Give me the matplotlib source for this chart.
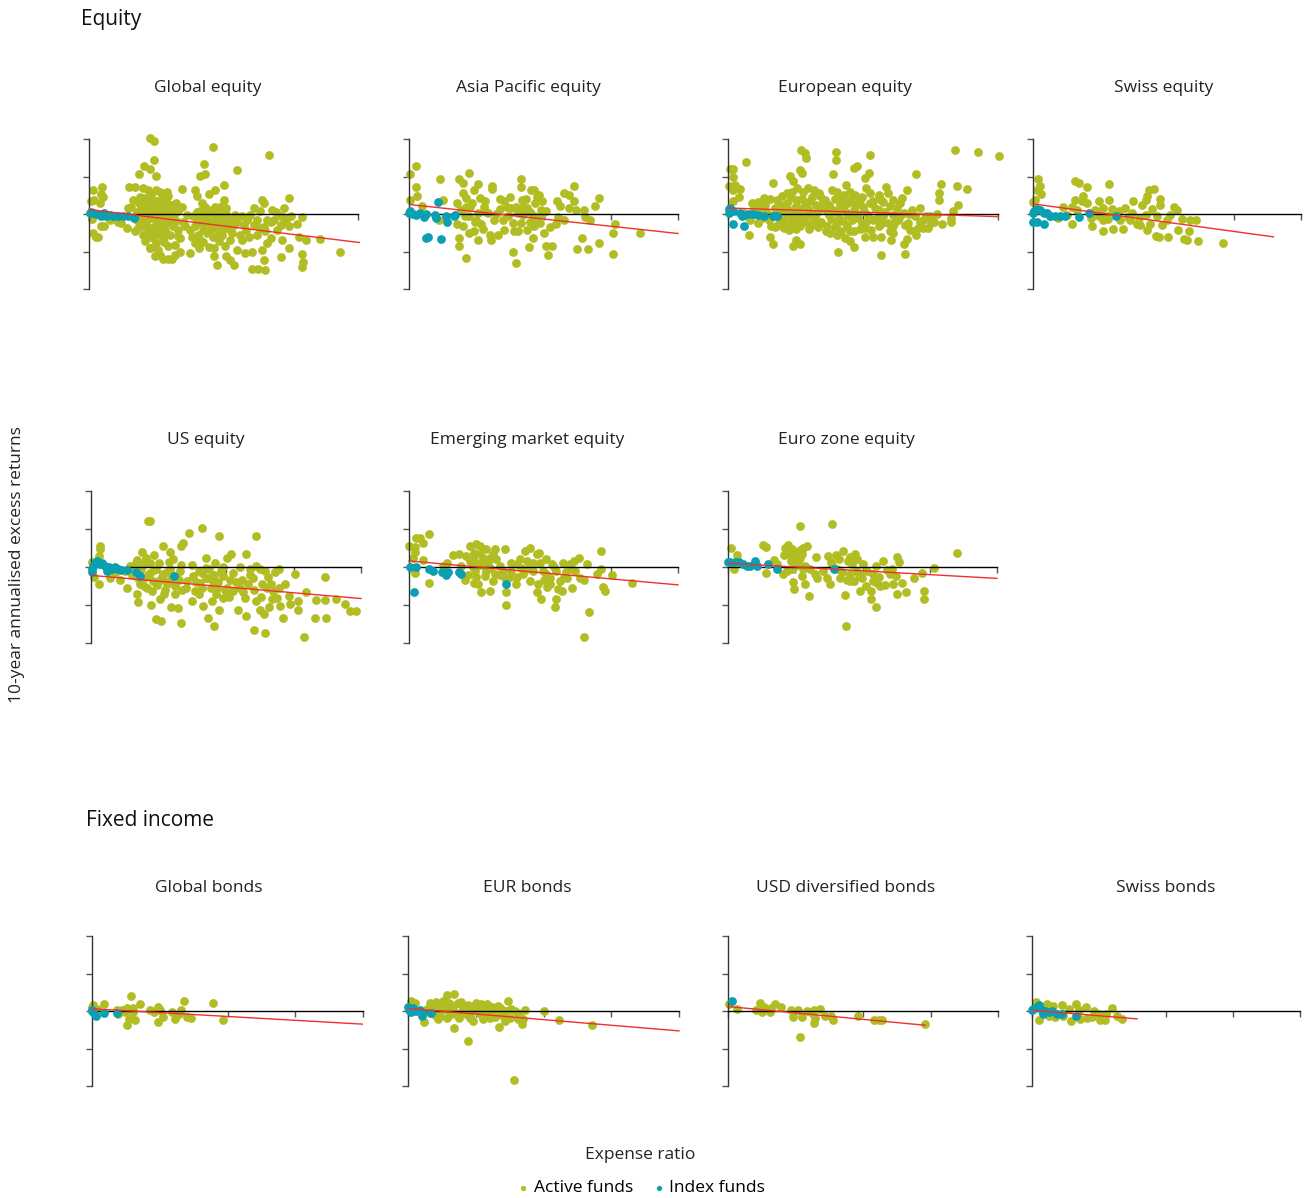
import numpy as np
import matplotlib
matplotlib.use("Agg")
import matplotlib.pyplot as plt

plt.rcParams['font.family'] = ['Open Sans', 'DejaVu Sans']

ACTIVE = '#b1bd22'
INDEX = '#0aa0b2'
TREND = '#f03030'

# ---------------- data (x = expense ratio, y = excess return) ----------------
global_eq_active = [
    (0.90, 2.03), (0.96, 1.96), (1.85, 1.79), (2.67, 1.58), (1.71, 1.33), (0.82, 1.29), (0.96, 1.45),
    (0.90, 1.20), (0.75, 1.08), (1.00, 1.02), (2.20, 1.18), (1.65, 1.02), (1.73, 1.07),
    (0.06, 0.65), (0.20, 0.72), (0.18, 0.54), (0.60, 0.72), (0.68, 0.72), (0.81, 0.69), (0.88, 0.65),
    (1.00, 0.63), (1.05, 0.60), (1.16, 0.58), (1.39, 0.68), (1.57, 0.65), (1.61, 0.49), (1.78, 0.54),
    (1.88, 0.65), (2.01, 0.77), (2.57, 0.38), (2.97, 0.42), (2.60, 0.29),
    (0.06, -0.51), (0.11, -0.60), (0.13, -0.61), (0.18, -0.33), (0.22, -0.31), (0.05, -0.12), (0.03, 0.34),
    (0.08, 0.38), (0.16, 0.29), (0.21, 0.45), (0.31, -0.15), (0.43, -0.20), (0.48, -0.24), (0.56, -0.37),
    (0.63, 0.19), (0.66, 0.38), (0.58, 0.16),
    (0.76, 0.45), (0.81, 0.25), (0.87, 0.38), (0.93, 0.29), (1.00, 0.34), (1.08, 0.43), (1.15, 0.38),
    (1.20, 0.12), (1.28, 0.13), (1.33, 0.07), (0.76, 0.03), (0.83, -0.06), (0.91, -0.11), (0.98, -0.02),
    (1.05, -0.06), (1.13, -0.15), (1.20, -0.11), (0.68, -0.46), (0.73, -0.37), (0.81, -0.33), (0.88, -0.42),
    (0.96, -0.51), (1.05, -0.55), (1.13, -0.42), (1.25, -0.33), (1.33, -0.42), (0.83, -0.73), (0.91, -0.91),
    (1.00, -0.77), (1.10, -0.64), (1.18, -0.86), (1.28, -0.82), (1.35, -0.64), (0.98, -1.13), (1.05, -1.08),
    (1.10, -1.20), (1.18, -1.20), (1.24, -1.20), (1.28, -1.08), (1.35, -1.00), (0.90, -0.91),
    (0.78, 0.15), (0.86, 0.10), (0.95, 0.18), (1.10, 0.22), (0.72, -0.15), (0.85, -0.25), (1.00, -0.30),
    (1.15, -0.25), (0.95, -0.65), (1.20, -0.55), (0.80, -0.55), (1.10, 0.05),
    (0.74, 0.30), (0.80, 0.05), (0.84, 0.42), (0.90, 0.22), (0.92, 0.50), (0.97, 0.08), (1.02, 0.25),
    (1.06, 0.14), (1.12, 0.30), (1.18, 0.48), (1.22, 0.25), (1.26, -0.02), (1.30, 0.30), (0.76, -0.30),
    (0.82, -0.18), (0.88, -0.02), (0.94, -0.38), (0.99, -0.18), (1.04, -0.42), (1.08, -0.30), (1.16, -0.02),
    (1.22, -0.20), (1.30, -0.18), (1.32, -0.58), (0.86, -0.60), (1.12, -0.75), (1.02, -0.95), (0.72, 0.05),
    (1.38, 0.20), (1.40, -0.20),
    (1.43, -0.33), (1.50, -0.42), (1.50, -1.04), (1.58, -0.77), (1.65, -0.68), (1.63, -0.91), (1.70, -0.42),
    (1.75, -0.15), (1.78, 0.12), (1.83, 0.03), (1.88, -0.11), (1.90, -0.37), (1.85, -0.60), (1.86, -0.91),
    (1.86, -1.13), (1.91, -1.35), (1.95, 0.20), (2.00, 0.38), (2.04, 0.01), (2.05, -0.24), (1.98, -0.55),
    (2.02, -0.86), (2.04, -1.11), (2.10, -1.22), (2.15, -1.36), (2.12, -0.15), (2.17, -0.02), (1.45, -0.02),
    (1.55, -0.06), (1.60, -0.15), (1.65, 0.07), (1.72, 0.20), (1.58, -0.33), (1.53, -0.60),
    (1.70, -0.25), (1.80, -0.30), (1.95, -0.20), (1.75, -0.50), (1.92, 0.05), (1.68, -0.05), (2.08, -0.40),
    (1.60, 0.05), (1.64, -0.22), (1.68, 0.30), (1.72, -0.10), (1.76, 0.02), (1.80, -0.45), (1.84, -0.20),
    (1.88, 0.20), (1.92, -0.55), (1.96, -0.08), (2.00, -0.38), (2.04, 0.15), (2.08, -0.15), (2.12, -0.50),
    (2.16, -0.30), (1.62, -0.55), (1.70, -0.75), (1.78, -0.88), (1.94, -0.72), (2.10, -0.70), (2.20, -0.20),
    (2.25, -0.55), (2.33, -0.42), (2.35, -0.15), (2.40, -0.02), (2.45, 0.16), (2.50, -0.15), (2.55, -0.37),
    (2.32, -1.04), (2.42, -1.00), (2.42, -1.46), (2.52, -1.46), (2.62, -1.50), (2.60, -1.22), (2.57, -0.95),
    (2.65, -0.77), (2.70, -0.64), (2.75, -0.15), (2.80, -0.42), (2.85, -0.06), (2.90, 0.16), (2.95, -0.11),
    (2.98, -0.31), (2.87, -0.68), (2.86, -1.15), (2.98, -0.91), (3.10, -0.26), (3.12, -0.60), (3.17, -0.09),
    (3.17, -1.06), (3.18, -1.29), (3.17, -1.41), (3.22, -0.68), (3.43, -0.66), (3.73, -1.00), (2.27, -0.68),
    (2.20, -0.95), (2.65, -0.15), (2.72, 0.12), (2.27, -0.06), (2.55, 0.07), (2.45, -0.30), (2.62, -0.45),
    (2.30, -0.30), (2.38, -0.60), (2.50, -0.55), (2.60, -0.35), (2.70, -0.20), (2.78, 0.05), (2.92, -0.20),
    (3.00, -0.05), (2.85, -0.30),
]
global_eq_index = [
    (0.01, 0.04), (0.06, 0.03), (0.11, 0.01), (0.16, -0.02), (0.23, 0.03), (0.31, -0.02), (0.36, -0.04),
    (0.43, -0.06), (0.51, -0.04), (0.58, -0.06), (0.67, -0.11), (0.03, 0.06), (0.18, -0.04), (0.26, -0.06),
]

asia_eq_active = [
    (0.10, 1.27), (0.01, 1.07), (0.11, 0.71), (0.12, 0.49), (0.01, 0.38), (0.19, 0.22), (0.46, 0.93),
    (0.50, 0.38), (0.45, -0.15), (0.74, 0.93), (0.80, 0.84), (0.89, 1.09), (1.03, 0.81), (0.96, 0.63),
    (0.80, 0.56), (0.85, 0.43), (0.72, 0.29), (0.94, 0.29), (1.06, 0.43), (1.13, 0.34), (1.11, 0.20),
    (0.85, 0.19), (0.89, -0.06), (0.83, -0.06), (0.72, -0.26), (0.80, -0.31), (0.89, -0.51), (0.96, -0.46),
    (0.75, -0.64), (0.75, -0.84), (0.85, -1.17), (1.03, -0.70), (1.07, -0.26), (1.00, -0.15), (1.20, -0.55),
    (1.22, -0.68), (1.24, 0.74), (1.24, 0.67), (1.27, -0.15), (1.35, 0.40), (1.36, 0.13), (1.42, 0.34),
    (1.50, 0.45), (1.40, -0.15), (1.33, -0.55), (1.42, -0.42), (1.52, 0.16), (1.59, 0.19), (1.56, -0.46),
    (1.62, -0.46), (1.54, -1.02), (1.59, -1.31), (1.67, 0.93), (1.67, 0.72), (1.68, 0.38), (1.74, 0.40),
    (1.69, -0.02), (1.67, -0.24), (1.75, -0.42), (1.79, -0.88), (1.81, 0.63), (1.86, 0.63), (1.88, 0.29),
    (1.85, -0.64), (1.93, 0.52), (1.96, 0.12), (1.98, 0.34), (1.91, -0.15), (2.00, -0.51), (2.03, -0.84),
    (2.06, -1.08), (2.13, -0.84), (2.04, 0.07), (2.22, -0.08), (2.25, 0.22), (2.18, -0.26), (2.30, 0.56),
    (2.30, -0.15), (2.38, 0.52), (2.38, 0.16), (2.45, 0.76), (2.46, 0.34), (2.49, 0.12), (2.50, -0.93),
    (2.57, -0.64), (2.60, 0.10), (2.61, -0.08), (2.66, -0.93), (2.69, -0.15), (2.76, 0.22), (2.83, 0.43),
    (2.83, -0.76), (3.04, -0.51), (3.06, -0.26), (3.04, -1.06), (3.43, -0.51), (1.76, 0.16), (1.86, -0.06),
    (1.47, -0.06), (1.18, 0.03), (1.03, 0.03), (1.86, -0.33), (1.95, -0.25), (1.80, 0.05),
    (0.90, 0.20), (0.98, -0.20), (1.10, -0.40), (1.15, 0.05), (1.30, 0.00), (1.45, 0.20), (1.55, -0.25),
    (1.70, 0.20), (1.80, -0.20), (1.90, 0.45), (2.10, -0.35), (2.20, 0.35), (1.98, 0.00), (1.62, 0.02),
    (0.78, 0.10),
]
asia_eq_index = [
    (0.00, 0.04), (0.01, 0.07), (0.06, 0.01), (0.11, -0.02), (0.16, 0.03), (0.22, -0.08), (0.26, 0.00),
    (0.38, -0.02), (0.40, -0.11), (0.43, 0.31), (0.55, -0.06), (0.57, -0.20), (0.67, -0.06), (0.69, -0.02),
    (0.28, -0.62), (0.48, -0.67), (0.26, -0.64),
]

europe_eq_active = [
    (3.36, 1.70), (3.70, 1.65), (4.01, 1.54), (1.08, 1.70), (1.14, 1.63), (1.16, 1.49), (1.60, 1.66),
    (1.60, 1.45), (2.10, 1.57), (0.26, 1.40), (0.03, 1.20), (0.07, 1.20), (0.07, 0.99), (1.91, 1.29),
    (1.86, 1.23), (2.09, 1.09), (2.03, 0.96), (1.56, 1.07), (1.06, 1.18), (1.09, 1.09), (0.92, 1.02),
    (0.97, 0.87), (0.67, 0.84), (2.79, 1.07), (3.15, 0.81), (3.39, 0.76), (3.54, 0.68), (3.12, 0.56),
    (3.12, 0.38), (3.41, 0.25), (3.33, 0.09), (3.31, -0.11), (3.31, -0.21), (3.09, 0.01), (3.17, -0.26),
    (3.05, -0.21),
    (0.02, 0.74), (0.11, 0.78), (0.18, 0.67), (0.08, 0.63), (0.16, 0.45), (0.08, 0.34), (0.31, -0.55),
    (0.45, 0.32), (0.53, 0.43), (0.45, -0.24), (0.63, -0.31), (0.62, -0.62), (0.67, -0.80), (0.72, -0.31),
    (0.97, -0.84), (1.06, -0.79), (1.01, -0.70), (0.83, -0.37), (0.90, -0.42), (1.02, -0.24), (1.14, -0.22),
    (1.22, -0.33), (1.34, -0.35), (1.46, -0.31), (1.51, -0.51), (1.61, -0.55), (1.63, -1.02), (1.68, -0.46),
    (1.73, -0.64), (1.81, -0.73), (1.87, -0.89), (1.86, -0.46), (2.03, -0.60), (2.15, -0.60), (2.26, -0.60),
    (2.27, -1.10), (2.42, -0.68), (2.44, -0.51), (2.62, -1.06), (2.61, -0.79), (2.65, -0.67), (2.79, -0.55),
    (2.89, -0.37), (2.97, -0.37), (2.82, -0.37), (2.70, -0.42), (2.67, -0.24),
    (0.72, 0.38), (0.80, 0.47), (0.87, 0.56), (0.95, 0.60), (1.02, 0.69), (1.11, 0.60), (1.19, 0.69),
    (1.28, 0.65), (1.36, 0.47), (1.44, 0.38), (1.54, 0.65), (1.64, 0.43), (1.69, 0.38), (1.75, 0.78),
    (1.81, 0.60), (1.88, 0.52), (1.96, 0.38), (2.05, 0.69), (2.10, 0.56), (2.15, 0.34), (2.23, 0.52),
    (2.30, 0.31), (2.34, 0.72), (2.37, 0.56), (2.44, 0.38), (2.50, 0.16), (2.58, 0.43), (2.65, 0.65),
    (2.72, 0.12), (2.84, 0.16), (2.77, -0.06),
    (0.48, 0.12), (0.58, 0.03), (0.67, -0.06), (0.75, 0.07), (0.82, -0.11), (0.90, -0.02), (0.97, 0.12),
    (1.04, -0.06), (1.12, 0.20), (1.19, 0.03), (1.27, -0.11), (1.34, 0.07), (1.41, 0.20), (1.49, -0.02),
    (1.56, 0.12), (1.64, -0.11), (1.71, 0.16), (1.78, -0.02), (1.86, 0.12), (1.93, -0.11), (2.00, 0.20),
    (2.08, -0.02), (2.15, -0.15), (2.23, 0.12), (2.30, -0.06), (2.37, -0.24), (2.45, -0.02), (2.52, -0.15),
    (2.60, 0.03), (2.89, -0.15), (2.99, -0.06), (0.33, -0.15), (0.23, 0.03), (0.38, 0.20), (0.87, 0.29),
    (1.02, 0.38), (1.22, 0.34), (1.78, 0.29), (1.98, -0.24), (1.61, -0.24), (1.31, -0.15), (1.07, -0.33),
    (0.92, -0.24), (0.75, -0.24), (2.03, -0.37), (2.23, -0.33), (2.45, -0.31), (1.76, -0.33),
    (0.55, 0.25), (0.60, -0.15), (0.62, 0.40), (0.70, 0.15), (0.70, -0.35), (0.78, 0.25), (0.80, -0.05),
    (0.85, -0.30), (0.88, 0.10), (0.93, 0.42), (0.95, -0.12), (1.00, 0.22), (1.00, -0.40), (1.05, 0.05),
    (1.09, 0.40), (1.10, -0.20), (1.15, 0.28), (1.15, -0.05), (1.20, 0.12), (1.20, -0.40), (1.25, 0.45),
    (1.25, -0.25), (1.30, 0.25), (1.30, 0.00), (1.38, -0.22), (1.40, 0.35), (1.45, 0.10), (1.45, -0.45),
    (1.50, 0.25), (1.52, -0.12), (1.58, 0.40), (1.58, -0.35), (1.62, 0.05), (1.66, 0.25), (1.70, -0.18),
    (1.72, 0.52), (1.75, 0.05), (1.80, -0.45), (1.82, 0.38), (1.84, -0.15), (1.90, 0.25), (1.90, 0.00),
    (1.95, -0.40), (1.98, 0.45), (2.02, 0.08), (2.05, -0.20), (2.10, 0.30), (2.12, -0.42), (2.18, 0.15),
    (2.20, -0.10), (2.26, 0.38), (2.28, -0.25), (2.33, 0.05), (2.40, 0.22), (2.40, -0.45), (2.48, -0.20),
    (2.55, 0.30), (2.55, -0.05), (2.62, -0.30), (2.68, 0.00), (2.75, -0.45), (2.85, -0.20), (2.93, -0.05),
    (3.00, -0.25), (0.40, 0.05), (0.50, -0.10), (0.35, 0.30), (0.28, -0.05), (1.35, 0.55), (1.62, 0.60),
]
europe_eq_index = [
    (0.01, 0.13), (0.01, 0.04), (0.03, 0.16), (0.08, 0.07), (0.18, 0.03), (0.23, -0.02), (0.31, 0.01),
    (0.37, 0.01), (0.45, -0.02), (0.53, -0.06), (0.67, -0.04), (0.73, -0.04), (0.07, -0.26), (0.23, -0.31),
    (0.21, -0.06),
]

swiss_eq_active = [
    (0.07, 0.93), (0.11, 0.76), (0.06, 0.65), (0.12, 0.54), (0.03, 0.38), (0.00, 0.31), (0.63, 0.89),
    (0.68, 0.83), (0.80, 0.71), (1.14, 0.80), (0.74, 0.49), (0.63, 0.38), (0.73, 0.34), (0.81, 0.29),
    (0.45, 0.18), (0.58, 0.19), (0.66, 0.12), (0.58, -0.26), (0.88, -0.31), (0.98, 0.34), (1.05, 0.16),
    (1.14, 0.38), (0.93, 0.12), (0.98, -0.06), (1.05, -0.15), (1.10, -0.06), (1.18, 0.13), (1.05, -0.46),
    (1.19, -0.40), (1.30, -0.15), (1.28, 0.07), (1.38, 0.16), (1.35, -0.40), (1.45, -0.15), (1.49, 0.34),
    (1.48, 0.04), (1.55, -0.26), (1.58, -0.11), (1.63, 0.25), (1.68, 0.38), (1.70, 0.49), (1.73, 0.63),
    (1.80, 0.67), (1.78, 0.13), (1.68, -0.02), (1.70, -0.42), (1.75, -0.26), (1.83, -0.58), (1.88, -0.60),
    (1.89, 0.40), (1.90, 0.25), (1.85, -0.06), (1.92, -0.28), (2.00, -0.15), (2.01, -0.60), (2.04, -0.02),
    (2.10, 0.20), (2.15, 0.12), (2.22, -0.13), (2.17, -0.42), (2.25, -0.67), (2.30, -0.68), (2.33, -0.46),
    (2.34, -0.17), (2.44, -0.17), (2.46, -0.73), (2.83, -0.76), (0.26, -0.06), (0.38, -0.11), (0.51, -0.02),
    (0.86, -0.11), (1.00, 0.05), (1.12, -0.12), (1.60, -0.30), (1.42, -0.08),
]
swiss_eq_index = [
    (0.00, 0.03), (0.02, 0.07), (0.06, 0.13), (0.11, 0.10), (0.16, 0.03), (0.21, 0.04), (0.26, -0.04),
    (0.33, -0.06), (0.41, -0.06), (0.48, -0.06), (0.00, -0.22), (0.06, -0.22), (0.16, -0.26), (0.68, -0.08),
    (0.83, 0.03), (1.24, -0.06),
]

us_eq_active = [
    (0.85, 1.20), (0.88, 1.20), (1.64, 1.02), (1.45, 0.89), (1.90, 0.82), (2.44, 0.82), (1.36, 0.64),
    (1.33, 0.55), (1.07, 0.55), (0.13, 0.55), (0.13, 0.47), (0.12, 0.29), (0.01, 0.14), (0.75, 0.40),
    (1.17, 0.40), (0.94, 0.32), (0.81, 0.23), (0.68, 0.18), (1.15, 0.14), (1.33, 0.05), (1.71, 0.23),
    (1.84, 0.11), (1.96, 0.00), (2.01, 0.23), (2.08, 0.35), (2.30, 0.35), (2.21, 0.00), (2.35, -0.04),
    (2.45, 0.03), (2.50, -0.06), (2.58, -0.11), (2.73, -0.12), (2.78, -0.04), (3.02, -0.19), (3.47, -0.25),
    (0.04, -0.26), (0.12, -0.46), (0.28, -0.28), (0.43, -0.33), (0.53, -0.55), (0.68, -0.72), (0.70, -0.91),
    (0.89, -1.00), (0.97, -1.38), (1.03, -1.41), (1.19, -1.05), (1.29, -1.09), (1.33, -1.47), (1.24, -0.72),
    (1.02, -0.83), (0.83, -0.55), (0.92, -0.37), (1.02, -0.33), (1.12, -0.46), (0.78, -0.28), (0.88, -0.15),
    (0.97, -0.06), (1.07, -0.19), (1.17, -0.06), (1.27, -0.28), (1.42, -0.37), (1.49, -0.90), (1.54, -0.63),
    (1.61, -0.41), (1.66, -1.03), (1.74, -1.34), (1.79, -0.90), (1.82, -1.56), (1.90, -1.12), (1.96, -0.81),
    (2.01, -0.55), (2.06, -0.35), (1.64, -0.15), (1.74, -0.28), (1.81, -0.37), (1.86, -0.55), (2.11, -0.63),
    (2.18, -1.12), (2.23, -0.33), (2.28, -0.81), (2.30, -1.29), (2.33, -0.46), (2.41, -1.67), (2.45, -0.90),
    (2.50, -1.12), (2.54, -0.46), (2.56, -1.23), (2.58, -1.73), (2.63, -1.05), (2.67, -0.46), (2.70, -0.63),
    (2.75, -0.81), (2.80, -1.03), (2.85, -1.34), (2.94, -0.76), (2.95, -0.98), (3.07, -0.90), (3.07, -1.12),
    (3.15, -1.85), (3.19, -0.65), (3.32, -1.34), (3.34, -0.88), (3.47, -0.88), (3.48, -1.34), (3.63, -0.83),
    (3.77, -0.97), (3.84, -1.16), (3.93, -1.16), (0.78, 0.07), (0.88, 0.11), (0.58, 0.03), (1.32, -0.11),
    (1.51, -0.24), (1.71, -0.02), (2.11, -0.15), (1.96, -0.24), (0.60, -0.20), (0.72, -0.45), (1.10, -0.60),
    (1.40, -0.55), (1.60, -0.70), (2.20, -0.55), (2.40, -0.30), (2.62, -0.25), (1.85, -0.70), (1.50, 0.05),
    (0.62, -0.10), (0.66, 0.10), (0.70, -0.30), (0.74, -0.05), (0.78, -0.50), (0.82, 0.15), (0.85, -0.20),
    (0.90, -0.62), (0.93, -0.08), (0.98, -0.48), (1.00, 0.10), (1.05, -0.25), (1.08, -0.70), (1.12, -0.12),
    (1.15, -0.38), (1.20, -0.20), (1.22, 0.20), (1.25, -0.50), (1.30, -0.35), (1.35, -0.60), (1.55, -0.40),
    (1.60, -0.10), (1.65, -0.55), (1.70, -0.30), (1.75, -0.05), (1.78, -0.55), (1.82, -0.20), (1.88, -0.40),
    (1.92, -0.10), (1.98, -0.60), (2.05, -0.80), (2.15, -0.40), (2.25, -0.65), (2.35, -0.20), (2.42, -0.60),
    (2.52, -0.80), (2.60, -0.55), (2.68, -0.85), (2.78, -0.55), (2.88, -0.45), (0.50, -0.10), (0.35, -0.15),
]
us_eq_index = [
    (0.01, -0.06), (0.03, 0.03), (0.06, 0.11), (0.09, 0.16), (0.13, 0.07), (0.17, 0.11), (0.21, 0.03),
    (0.26, 0.00), (0.31, -0.04), (0.36, 0.00), (0.40, -0.04), (0.45, -0.09), (0.53, -0.09), (0.67, -0.12),
    (0.73, -0.24), (1.23, -0.24), (0.02, -0.12), (0.23, -0.11),
]

em_eq_active = [
    (0.00, 0.55), (0.09, 0.53), (0.11, 0.76), (0.16, 0.76), (0.21, 0.62), (0.30, 0.86), (0.09, 0.40),
    (0.06, 0.23), (0.21, 0.18), (0.09, -0.15), (0.30, -0.41), (0.65, 0.32), (0.75, 0.35), (0.90, 0.55),
    (1.00, 0.60), (1.05, 0.55), (1.14, 0.47), (1.28, 0.47), (1.43, 0.47), (0.96, 0.38), (1.05, 0.33),
    (1.20, 0.25), (1.30, 0.20), (0.91, 0.16), (1.01, 0.11), (1.11, 0.07), (1.20, -0.02), (0.78, 0.03),
    (0.83, -0.33), (0.98, -0.11), (0.96, -0.41), (1.03, -0.46), (1.07, -0.66), (1.20, -0.63), (1.25, -0.37),
    (1.28, -0.19), (1.13, -0.24), (1.43, -0.28), (1.44, -0.66), (1.44, -1.00), (1.51, 0.11), (1.52, -0.11),
    (1.59, -0.46), (1.66, -0.02), (1.72, 0.42), (1.80, 0.51), (1.80, -0.37), (1.85, 0.11), (1.90, 0.35),
    (1.93, 0.38), (1.90, -0.65), (1.92, -0.46), (1.97, -0.83), (1.99, -0.11), (2.03, 0.20), (2.05, -0.53),
    (2.09, -0.28), (2.13, 0.07), (2.17, -1.05), (2.19, -0.85), (2.22, -0.59), (2.24, -0.37), (2.27, -0.63),
    (2.29, 0.11), (2.33, -0.12), (2.39, 0.09), (2.42, -0.55), (2.43, -0.04), (2.47, -0.11), (2.53, 0.23),
    (2.55, -0.28), (2.60, -0.35), (2.60, -1.85), (2.65, 0.09), (2.67, -1.18), (2.80, -0.19), (2.85, 0.42),
    (2.86, -0.06), (2.89, -0.53), (2.91, -0.63), (3.02, -0.21), (3.31, -0.41), (0.51, 0.03), (0.56, 0.11),
    (1.70, -0.19), (1.60, 0.07), (1.85, -0.11), (2.04, -0.19), (2.19, -0.11), (1.35, 0.03), (1.15, -0.10),
    (1.60, -0.25), (1.75, 0.15), (2.35, -0.30), (0.95, 0.00), (1.40, -0.10),
    (0.85, 0.30), (0.95, 0.20), (1.05, 0.05), (1.10, 0.25), (1.18, 0.12), (1.25, 0.35), (1.35, -0.20),
    (1.50, -0.25), (1.65, 0.20), (1.75, -0.05), (1.95, 0.10), (2.00, -0.35), (2.10, -0.45), (2.15, 0.00),
    (2.30, -0.25), (2.45, 0.15), (0.88, -0.22), (1.00, -0.25),
]
em_eq_index = [
    (0.01, 0.00), (0.10, 0.00), (0.08, -0.66), (0.30, -0.04), (0.36, -0.11), (0.49, -0.12), (0.55, -0.21),
    (0.58, -0.12), (0.74, -0.12), (0.77, -0.18), (1.44, -0.46),
]

ez_eq_active = [
    (0.05, 0.50), (0.14, 0.32), (0.09, -0.06), (0.52, 0.58), (0.57, 0.53), (0.57, -0.15), (0.68, 0.18),
    (0.82, -0.18), (0.84, 0.32), (0.85, 0.50), (0.89, 0.58), (0.95, 0.47), (1.00, 0.34), (1.07, 0.44),
    (1.11, 0.51), (1.17, 0.54), (1.07, 1.09), (1.55, 1.13), (0.93, 0.16), (1.00, 0.03), (1.07, 0.23),
    (1.15, 0.03), (0.88, -0.11), (0.96, -0.39), (0.98, -0.57), (1.15, -0.44), (1.20, -0.77), (1.10, -0.24),
    (1.30, -0.19), (1.32, -0.28), (1.31, 0.27), (1.47, -0.30), (1.49, 0.29), (1.52, -0.44), (1.60, 0.32),
    (1.53, 0.12), (1.62, -0.06), (1.67, -0.28), (1.71, 0.41), (1.74, -0.74), (1.76, -1.54), (1.77, -0.33),
    (1.81, 0.27), (1.84, 0.07), (1.87, -0.37), (1.89, 0.35), (1.92, 0.20), (1.92, -0.11), (1.97, -0.62),
    (1.99, -0.30), (2.01, 0.07), (2.13, -0.62), (2.13, -0.83), (2.15, -0.18), (2.20, 0.03), (2.20, -1.04),
    (2.21, -0.42), (2.26, -0.50), (2.30, 0.16), (2.34, -0.48), (2.36, -0.09), (2.44, -0.04), (2.50, -0.24),
    (2.51, 0.27), (2.51, -0.71), (2.55, 0.12), (2.58, -0.42), (2.65, -0.65), (2.77, -0.28), (2.88, -0.15),
    (2.91, -0.62), (2.91, -0.83), (3.07, -0.02), (3.40, 0.36), (0.73, 0.07), (1.22, -0.06), (1.42, -0.11),
    (1.82, -0.19), (2.07, -0.11), (2.16, -0.37), (2.41, -0.19), (1.82, -0.37), (0.90, 0.35), (1.02, 0.15),
    (0.92, 0.45), (0.98, 0.25), (1.04, 0.10), (1.10, 0.35), (1.12, -0.05), (0.95, -0.05), (1.55, 0.05),
    (1.65, 0.20), (1.78, 0.15), (1.95, -0.20), (2.05, -0.50), (2.25, -0.25), (2.45, -0.45), (1.70, -0.12),
]
ez_eq_index = [
    (0.00, 0.12), (0.03, 0.12), (0.10, 0.14), (0.16, 0.12), (0.23, 0.09), (0.28, 0.03), (0.33, 0.03),
    (0.40, 0.16), (0.43, 0.03), (0.59, 0.09), (0.73, -0.06), (1.57, -0.06),
]

glob_bd_active = [
    (0.00, 0.12), (0.02, 0.15), (0.07, 0.06), (0.17, 0.18), (0.37, 0.02), (0.39, -0.07), (0.44, 0.04),
    (0.51, 0.09), (0.54, -0.20), (0.52, -0.38), (0.57, 0.39), (0.60, 0.09), (0.64, -0.25), (0.71, 0.18),
    (0.86, 0.02), (0.91, -0.03), (0.97, 0.12), (0.98, -0.29), (1.00, 0.02), (1.05, -0.16), (1.18, -0.03),
    (1.23, -0.20), (1.28, -0.07), (1.32, 0.02), (1.36, 0.27), (1.40, -0.16), (1.46, -0.18), (1.79, 0.21),
    (1.93, -0.25), (0.61, -0.03), (0.49, -0.03),
]
glob_bd_index = [
    (0.00, 0.00), (0.02, -0.03), (0.06, -0.14), (0.17, -0.04), (0.37, -0.04), (0.00, 0.04),
]

eur_bd_active = [
    (0.05, 0.28), (0.10, 0.22), (0.02, 0.07), (0.24, -0.28), (0.32, 0.22), (0.42, 0.25), (0.57, 0.43),
    (0.68, 0.46), (0.68, -0.46), (0.89, -0.80), (0.37, 0.00), (0.47, -0.13), (0.52, 0.09), (0.62, 0.18),
    (0.64, -0.09), (0.74, 0.22), (0.76, -0.18), (0.84, 0.13), (0.86, -0.09), (0.94, 0.04), (0.96, -0.27),
    (1.01, 0.22), (1.06, -0.09), (1.11, 0.09), (1.17, 0.20), (1.21, -0.18), (1.26, 0.00), (1.33, 0.13),
    (1.35, -0.43), (1.40, -0.13), (1.45, 0.00), (1.48, 0.28), (1.50, -0.18), (1.58, 0.00), (1.63, -0.22),
    (1.69, -0.34), (1.72, 0.04), (1.57, -1.85), (2.01, 0.00), (2.23, -0.25), (2.71, -0.37), (0.42, 0.00),
    (0.57, -0.18), (0.69, -0.04), (0.79, 0.00), (0.91, -0.13), (1.03, 0.00), (1.16, -0.13), (1.31, -0.09),
    (1.43, -0.27), (1.67, -0.18), (0.32, -0.04), (0.52, 0.27), (0.45, 0.12), (0.80, 0.15), (1.20, 0.05),
    (0.60, 0.00), (0.98, 0.08), (1.38, 0.05), (0.28, 0.05),
    (0.35, 0.12), (0.40, -0.10), (0.48, 0.18), (0.55, 0.05), (0.58, 0.25), (0.66, 0.10), (0.72, -0.10),
    (0.78, 0.25), (0.82, -0.05), (0.88, 0.15), (0.92, -0.18), (1.00, 0.10), (1.08, 0.18), (1.13, -0.04),
    (1.24, 0.12), (1.28, -0.15), (1.36, 0.08), (1.42, -0.05), (1.52, 0.05), (1.62, -0.05), (1.70, -0.20),
    (0.45, -0.20), (1.10, -0.20),
]
eur_bd_index = [
    (0.00, 0.11), (0.01, 0.04), (0.05, -0.02), (0.08, 0.07), (0.12, 0.00), (0.17, 0.02), (0.20, -0.13),
    (0.22, -0.04), (0.34, -0.04),
]

usd_bd_active = [
    (0.02, 0.19), (0.13, 0.06), (0.41, 0.04), (0.48, 0.21), (0.51, -0.03), (0.54, 0.11), (0.62, -0.03),
    (0.64, 0.09), (0.69, 0.19), (0.78, 0.11), (0.93, 0.04), (0.97, -0.16), (1.04, 0.04), (1.06, -0.69),
    (1.09, -0.16), (1.17, 0.00), (1.24, -0.05), (1.27, 0.04), (1.29, -0.18), (1.28, -0.32), (1.37, 0.06),
    (1.43, -0.12), (1.53, -0.12), (1.56, -0.23), (1.93, -0.14), (2.16, -0.23), (2.23, -0.23), (2.28, -0.23),
    (2.92, -0.35),
]
usd_bd_index = [(0.06, 0.28)]

swiss_bd_active = [
    (0.06, 0.24), (0.10, -0.23), (0.23, 0.20), (0.32, 0.13), (0.45, 0.15), (0.35, -0.16), (0.55, 0.06),
    (0.58, -0.27), (0.65, 0.20), (0.70, 0.02), (0.80, 0.11), (0.82, -0.18), (0.90, -0.16), (0.93, 0.00),
    (1.00, -0.07), (1.02, -0.23), (1.09, -0.23), (1.11, -0.07), (1.19, 0.09), (1.27, -0.12), (1.34, -0.21),
    (0.17, -0.03), (0.47, -0.12), (0.25, -0.12), (0.72, -0.21),
]
swiss_bd_index = [
    (0.00, 0.02), (0.02, 0.06), (0.07, 0.11), (0.11, 0.15), (0.15, 0.02), (0.20, 0.00), (0.25, -0.03),
    (0.30, 0.00), (0.37, -0.07), (0.45, -0.09), (0.66, -0.12), (0.17, -0.09),
]

# fitted lines: (x start, y start, x end, y end)
global_eq_trend = (0.0, 0.12, 4.02, -0.76)
asia_eq_trend = (0.02, 0.25, 4.0, -0.52)
europe_eq_trend = (0.0, 0.16, 4.0, -0.07)
swiss_eq_trend = (0.0, 0.27, 3.59, -0.61)
us_eq_trend = (0.0, -0.22, 4.0, -0.83)
em_eq_trend = (0.0, 0.16, 4.0, -0.47)
ez_eq_trend = (0.0, 0.10, 4.0, -0.30)
glob_bd_trend = (0.0, 0.06, 3.99, -0.35)
eur_bd_trend = (0.0, 0.07, 4.0, -0.53)
usd_bd_trend = (0.0, 0.12, 2.92, -0.38)
swiss_bd_trend = (0.0, 0.02, 1.57, -0.21)

# panel boxes in pixels: left, right, top, bottom ; title centre x, title y
panels = [
    ("Global equity", global_eq_active, global_eq_index, global_eq_trend, (89, 358, 139, 289), (208, 88)),
    ("Asia Pacific equity", asia_eq_active, asia_eq_index, asia_eq_trend, (409, 678, 139, 289), (528, 88)),
    ("European equity", europe_eq_active, europe_eq_index, europe_eq_trend, (728, 998, 139, 289), (845, 88)),
    ("Swiss equity", swiss_eq_active, swiss_eq_index, swiss_eq_trend, (1033, 1301, 139, 289), (1164, 88)),
    ("US equity", us_eq_active, us_eq_index, us_eq_trend, (91, 361, 491, 643), (206, 440)),
    ("Emerging market equity", em_eq_active, em_eq_index, em_eq_trend, (409, 678, 491, 643), (527, 440)),
    ("Euro zone equity", ez_eq_active, ez_eq_index, ez_eq_trend, (728, 997, 491, 643), (846, 440)),
    ("Global bonds", glob_bd_active, glob_bd_index, glob_bd_trend, (92, 363, 936, 1086), (209, 888)),
    ("EUR bonds", eur_bd_active, eur_bd_index, eur_bd_trend, (408, 679, 936, 1086), (527, 888)),
    ("USD diversified bonds", usd_bd_active, usd_bd_index, usd_bd_trend, (728, 998, 936, 1086), (846, 888)),
    ("Swiss bonds", swiss_bd_active, swiss_bd_index, swiss_bd_trend, (1032, 1300, 936, 1086), (1166, 888)),
]

W, H = 1306, 1198
fig = plt.figure(figsize=(W / 100, H / 100), dpi=100)

handles = None
for title, act, idx, trend, box, tpos in panels:
    l, r, t, b = box
    ax = fig.add_axes([l / W, 1 - b / H, (r - l) / W, (b - t) / H])
    ax.set_xlim(0, 4)
    ax.set_ylim(-2, 2)
    a = np.array(act).T
    i = np.array(idx).T
    h1 = ax.scatter(a[0], a[1], s=40, color=ACTIVE, linewidths=0, clip_on=False, zorder=2)
    h2 = ax.scatter(i[0], i[1], s=40, color=INDEX, linewidths=0, clip_on=False, zorder=3)
    ax.plot([trend[0], trend[2]], [trend[1], trend[3]], color=TREND, lw=1, zorder=4, clip_on=False)
    if handles is None:
        handles = (h1, h2)

    for s in ['top', 'right']:
        ax.spines[s].set_visible(False)
    ax.spines['bottom'].set_position(('data', 0))
    ax.spines['bottom'].set_color('black')
    ax.spines['bottom'].set_linewidth(1)
    ax.spines['left'].set_color('#333333')
    ax.spines['left'].set_linewidth(1)
    ax.set_xticks([0, 1, 2, 3, 4])
    ax.set_yticks([-2, -1, 0, 1, 2])
    ax.tick_params(axis='both', direction='out', length=4, width=1, color='#555555',
                   labelbottom=False, labelleft=False)
    ax.patch.set_visible(False)

    fig.text(tpos[0] / W, 1 - tpos[1] / H, title, ha='center', va='center', fontsize=12.5, color='#222222')

fig.text(81 / W, 1 - 20 / H, "Equity", ha='left', va='center', fontsize=15, color='#111111')
fig.text(86 / W, 1 - 821 / H, "Fixed income", ha='left', va='center', fontsize=15, color='#111111')
fig.text(17 / W, 1 - 565 / H, "10-year annualised excess returns", rotation=90,
         ha='center', va='center', fontsize=12.5, color='#222222')
fig.text(640 / W, 1 - 1155 / H, "Expense ratio", ha='center', va='center', fontsize=12.5, color='#222222')

fig.legend(handles, ["Active funds", "Index funds"], loc='center', ncol=2,
           bbox_to_anchor=(640 / W, 1 - 1188 / H), frameon=False, fontsize=12.5,
           markerscale=0.6, handletextpad=0.1, columnspacing=1.0, handlelength=1.0)

fig.savefig("out.png", dpi=100)
